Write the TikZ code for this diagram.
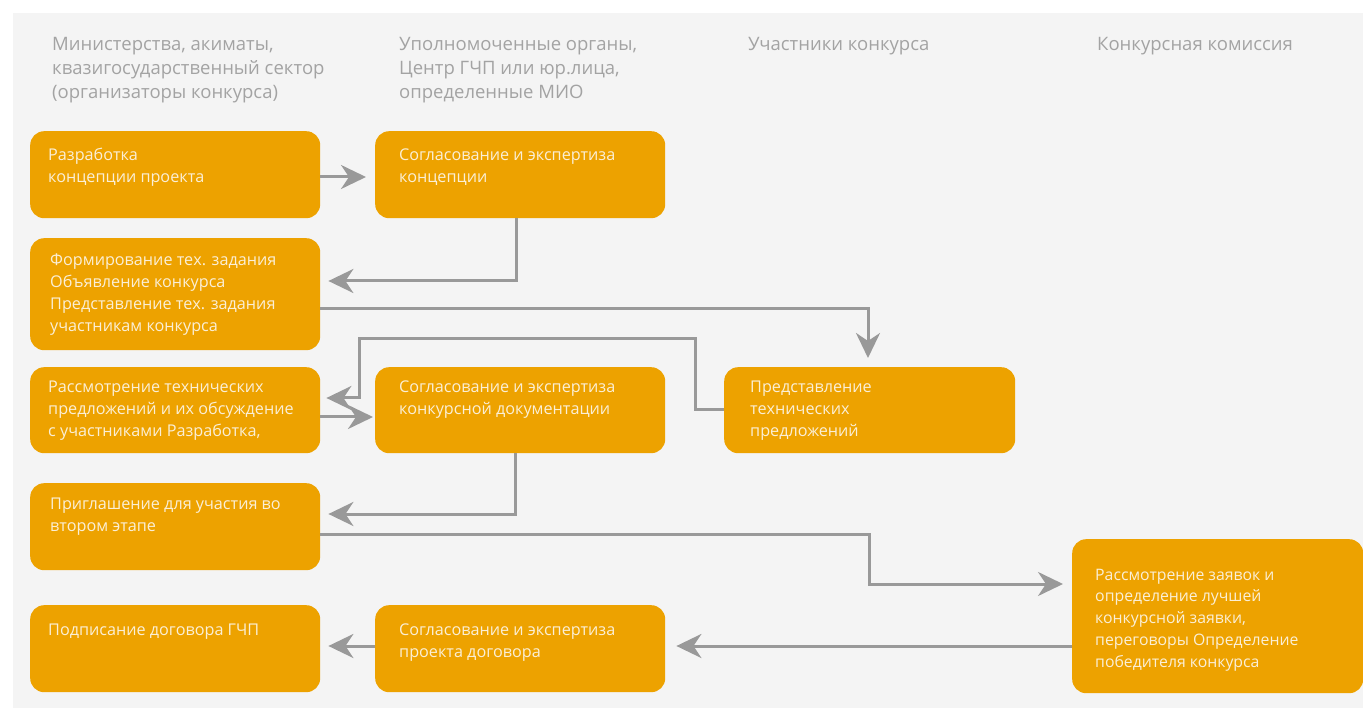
\documentclass[tikz,border=0pt]{standalone}
\usepackage{fontspec}
\setmainfont{Open Sans}
\usetikzlibrary{arrows.meta}
\definecolor{bgcol}{HTML}{F4F4F4}
\definecolor{boxcol}{HTML}{EDA200}
\definecolor{boxtext}{HTML}{FBEFD6}
\definecolor{headcol}{HTML}{A3A3A3}
\definecolor{arrcol}{HTML}{999999}
\newcommand\lines[1]{\begin{tabular}[t]{@{}l@{}}#1\end{tabular}}
\tikzset{
  stepbox/.style={rectangle, rounded corners=14pt, fill=boxcol, draw=none,
    anchor=north west, inner sep=0pt, minimum width=290pt, minimum height=87pt},
  boxlabel/.style={anchor=base west, inner sep=0pt, text=boxtext,
    font=\fontsize{16.2}{22}\selectfont},
  head/.style={anchor=base west, inner sep=0pt, text=headcol,
    font=\fontsize{18.5}{24}\selectfont},
  arr/.style={draw=arrcol, line width=3pt,
    -{Stealth[length=25pt, width=24pt, inset=8pt]}},
}
\begin{document}
\begin{tikzpicture}[x=1pt, y=-1pt]
\useasboundingbox (0,0) rectangle (1363,708);
\fill[bgcol] (13,13) rectangle (1363,708);

% column headings
\node[head] (h1) at (52,51) {\lines{Министерства, акиматы,\\квазигосударственный сектор\\(организаторы конкурса)}};
\node[head] (h2) at (399,51) {\lines{Уполномоченные органы,\\Центр ГЧП или юр.лица,\\определенные МИО}};
\node[head] (h3) at (748,51) {Участники конкурса};
\node[head] (h4) at (1097,51) {Конкурсная комиссия};

% process boxes
\node[stepbox] (a) at (30,131) {};
\node[stepbox] (b) at (375,131) {};
\node[stepbox, minimum height=112pt] (c) at (30,238) {};
\node[stepbox, minimum height=86pt] (d) at (30,367) {};
\node[stepbox, minimum height=86pt] (e) at (375,367) {};
\node[stepbox, minimum width=291pt, minimum height=86pt] (f) at (724,367) {};
\node[stepbox] (g) at (30,483) {};
\node[stepbox] (h) at (30,605) {};
\node[stepbox] (i) at (375,605) {};
\node[stepbox, minimum width=291pt, minimum height=154pt] (j) at (1072,539) {};

% box texts
\node[boxlabel] (at) at (48,161) {\lines{Разработка\\концепции проекта}};
\node[boxlabel] (bt) at (399,161) {\lines{Согласование и экспертиза\\концепции}};
\node[boxlabel] (ct) at (50,266) {\lines{Формирование тех. задания\\Объявление конкурса\\Представление тех. задания\\участникам конкурса}};
\node[boxlabel] (dt) at (48,393) {\lines{Рассмотрение технических\\предложений и их обсуждение\\с участниками Разработка,}};
\node[boxlabel] (et) at (399,393) {\lines{Согласование и экспертиза\\конкурсной документации}};
\node[boxlabel] (ft) at (750,393) {\lines{Представление\\технических\\предложений}};
\node[boxlabel] (gt) at (50,509) {\lines{Приглашение для участия во\\втором этапе}};
\node[boxlabel] (ht) at (48,635) {Подписание договора ГЧП};
\node[boxlabel] (it) at (399,635) {\lines{Согласование и экспертиза\\проекта договора}};
\node[boxlabel, font=\fontsize{15.8}{21.8}\selectfont] (jt) at (1095,580)
  {\lines{Рассмотрение заявок и\\определение лучшей\\конкурсной заявки,\\переговоры Определение\\победителя конкурса}};

% connectors
\draw[arr, shorten >=9pt] (a.east |- 0,177) -- (b.west |- 0,177);
\draw[arr, shorten >=8pt] (b.south -| 516,0) |- (c.east |- 0,281);
\draw[arr, shorten >=9pt] (c.east |- 0,309) -| (f.north -| 868,0);
\draw[arr, shorten >=6pt] (f.west |- 0,410) -| (695,339) -| (359,398) -- (d.east |- 0,398);
\draw[arr, shorten >=2pt] (d.east |- 0,417) -- (e.west |- 0,417);
\draw[arr, shorten >=8pt] (e.south -| 515,0) |- (g.east |- 0,514);
\draw[arr, shorten >=9pt] (g.east |- 0,534) -| (869,584) -- (j.west |- 0,584);
\draw[arr, shorten >=11pt] (j.west |- 0,646) -- (i.east |- 0,646);
\draw[arr, shorten >=8pt] (i.west |- 0,646) -- (h.east |- 0,646);
\end{tikzpicture}
\end{document}
